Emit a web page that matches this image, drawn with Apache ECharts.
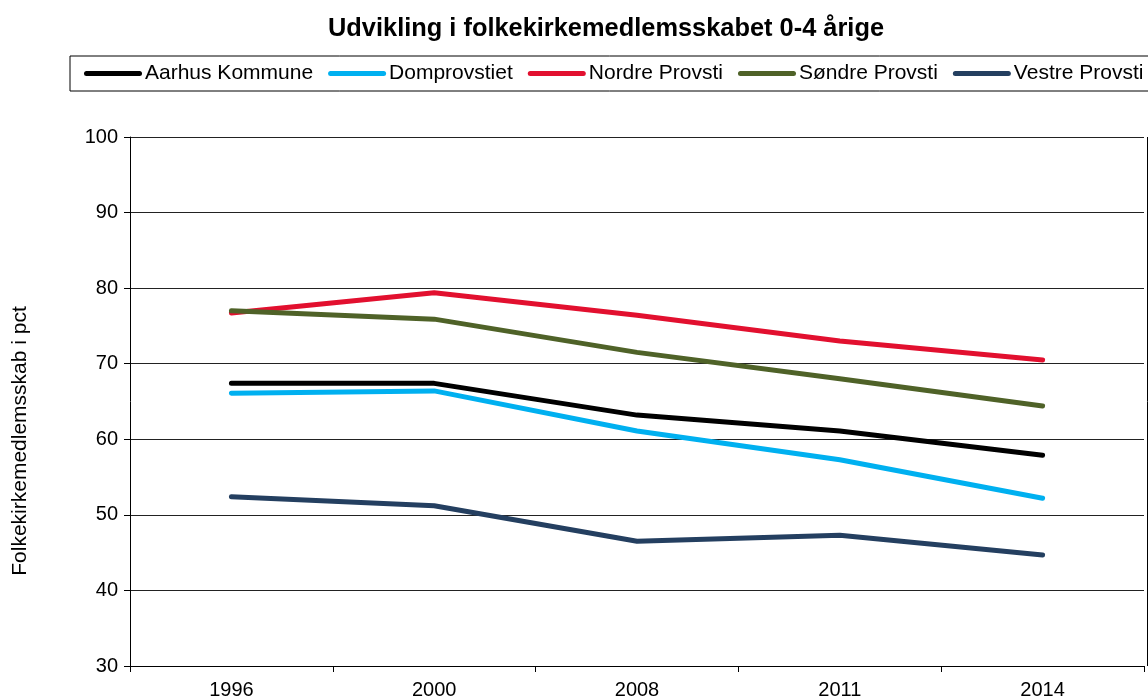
<!DOCTYPE html>
<html>
<head>
<meta charset="utf-8">
<script src="https://cdn.jsdelivr.net/npm/echarts@6/dist/echarts.min.js"></script>
<style>
html,body{margin:0;padding:0;background:#fff;}
#c{width:1148px;height:700px;}
</style>
</head>
<body>
<div id="c"></div>
<script>
const categories = ['1996', '2000', '2008', '2011', '2014'];
const aarhusKommune = [67.4, 67.4, 63.2, 61.1, 57.9];
const domprovstiet = [66.1, 66.4, 61.1, 57.3, 52.2];
const nordreProvsti = [76.7, 79.4, 76.4, 73.0, 70.5];
const sondreProvsti = [77.0, 75.9, 71.5, 68.0, 64.4];
const vestreProvsti = [52.4, 51.2, 46.5, 47.3, 44.7];
const seriesNames = ['Aarhus Kommune', 'Domprovstiet', 'Nordre Provsti', 'Søndre Provsti', 'Vestre Provsti'];
const seriesColors = ['#000000', '#00B0F0', '#E2102F', '#4F6228', '#243F60'];
const seriesData = [aarhusKommune, domprovstiet, nordreProvsti, sondreProvsti, vestreProvsti];

const font = 'Liberation Sans, Arial, sans-serif';
const chart = echarts.init(document.getElementById('c'));
const icon = 'path://M2.5,0 L55.5,0 A2.5,2.5 0 0 1 55.5,5 L2.5,5 A2.5,2.5 0 0 1 2.5,0 Z';

chart.setOption({
  animation: false,
  backgroundColor: '#ffffff',
  title: {
    text: 'Udvikling i folkekirkemedlemsskabet 0-4 årige',
    left: 328,
    top: 16,
    padding: 0,
    textStyle: { fontFamily: font, fontSize: 25.4, fontWeight: 'bold', color: '#000' }
  },
  legend: {
    left: 70,
    top: 56,
    width: 1300,
    orient: 'horizontal',
    padding: [7, 30, 7, 14],
    itemGap: 15,
    itemWidth: 58,
    itemHeight: 5,
    borderColor: '#000',
    borderWidth: 1,
    icon: icon,
    textStyle: { fontFamily: font, fontSize: 21, color: '#000', padding: [1, 0, 0, -2] },
    data: seriesNames
  },
  grid: { left: 130, right: 4, top: 137, bottom: 34, containLabel: false },
  xAxis: {
    type: 'category',
    data: categories,
    boundaryGap: true,
    axisLine: { lineStyle: { color: '#000', width: 1 } },
    axisTick: { show: true, length: 6, lineStyle: { color: '#000' } },
    axisLabel: { fontFamily: font, fontSize: 20, color: '#000', margin: 14 },
    splitLine: { show: false }
  },
  yAxis: {
    type: 'value',
    min: 30,
    max: 100,
    interval: 10,
    axisLine: { show: true, lineStyle: { color: '#000', width: 1 } },
    axisTick: { show: true, length: 6, lineStyle: { color: '#000' } },
    axisLabel: { fontFamily: font, fontSize: 20, color: '#000', margin: 12 },
    splitLine: { show: true, lineStyle: { color: '#222', width: 1 } }
  },
  graphic: [
    {
      type: 'text',
      x: 20,
      y: 441,
      rotation: Math.PI / 2,
      style: {
        text: 'Folkekirkemedlemsskab i pct',
        fontFamily: font,
        fontSize: 21,
        fill: '#000',
        align: 'center',
        verticalAlign: 'middle'
      }
    },
    {
      type: 'line',
      shape: { x1: 1147.5, y1: 137, x2: 1147.5, y2: 666 },
      style: { stroke: '#000', lineWidth: 1 }
    }
  ],
  series: seriesNames.map((name, i) => ({
    name: name,
    type: 'line',
    data: seriesData[i],
    symbol: 'none',
    showSymbol: false,
    color: seriesColors[i],
    lineStyle: { width: 5, color: seriesColors[i], cap: 'round', join: 'round' },
    emphasis: { disabled: true }
  }))
});
</script>
</body>
</html>
